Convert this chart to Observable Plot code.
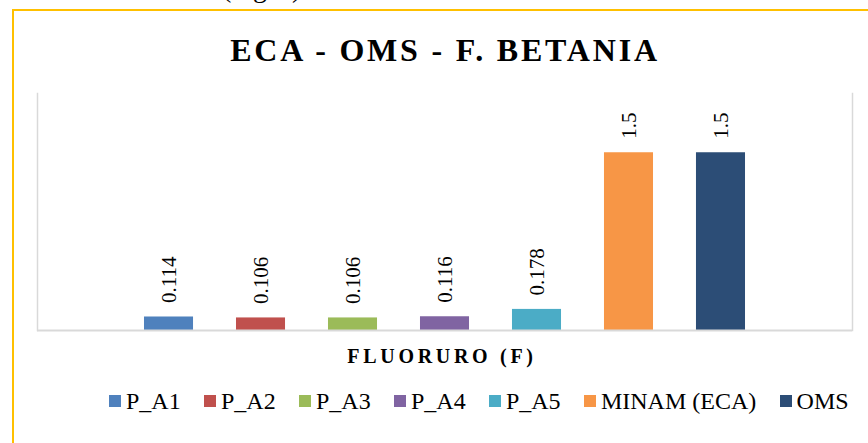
<!DOCTYPE html>
<html>
<head>
<meta charset="utf-8">
<script src="https://cdn.jsdelivr.net/npm/d3@7"></script>
<script src="https://cdn.jsdelivr.net/npm/@observablehq/plot@0.6"></script>
<style>
  html, body { margin: 0; padding: 0; background: #fff; }
  #wrap { position: relative; width: 868px; height: 443px; overflow: hidden; font-family: "Liberation Serif", Tinos, "Times New Roman", Times, serif; color: #000; }
  #border { position: absolute; left: 12px; top: 9px; width: 900px; height: 500px; border-top: 2px solid #FFC000; border-left: 2px solid #FFC000; box-sizing: border-box; }
  #above { position: absolute; left: 222px; top: -26px; font-size: 28px; line-height: 28px; white-space: nowrap; }
  #title { position: absolute; left: 0; width: 890px; top: 34px; text-align: center; font-size: 32px; line-height: 32px; font-weight: bold; letter-spacing: 2.8px; white-space: nowrap; }
  #plot { position: absolute; left: 0; top: 0; }
  #xtitle { position: absolute; left: 0; width: 884px; top: 346px; text-align: center; font-size: 20px; line-height: 20px; font-weight: bold; letter-spacing: 3.7px; white-space: nowrap; }
  #legend { position: absolute; left: 109px; top: 389px; font-size: 24px; line-height: 24px; white-space: nowrap; }
  #legend .item { display: inline-block; margin-right: 23.3px; }
  #legend .sw { display: inline-block; width: 12px; height: 12px; margin-right: 5px; vertical-align: 2px; }
</style>
</head>
<body>
<div id="wrap">
  <div id="border"></div>
  <div id="above">(mg/L)</div>
  <div id="title">ECA - OMS - F. BETANIA</div>
  <div id="plot"></div>
  <div id="xtitle">FLUORURO (F)</div>
  <div id="legend"></div>
</div>
<script>
const series = ["P_A1", "P_A2", "P_A3", "P_A4", "P_A5", "MINAM (ECA)", "OMS"];
const values = [0.114, 0.106, 0.106, 0.116, 0.178, 1.5, 1.5];
const colors = ["#4F81BD", "#C0504D", "#9BBB59", "#8064A2", "#4BACC6", "#F79646", "#2C4D76"];
const category = "FLUORURO (F)";

const data = series.map((s, i) => ({series: s, value: values[i]}));
const font = '"Liberation Serif", Tinos, "Times New Roman", Times, serif';

const chart = Plot.plot({
  width: 868,
  height: 345,
  marginTop: 93,
  marginBottom: 15,
  marginLeft: 37,
  marginRight: 16,
  style: {background: "transparent", fontFamily: font},
  x: {domain: series, paddingInner: 0.467, paddingOuter: 1.163, round: false, axis: null},
  y: {domain: [0, 2], axis: null},
  color: {domain: series, range: colors},
  marks: [
    Plot.frame({anchor: "left", stroke: "#d9d9d9", strokeWidth: 1.5}),
    Plot.frame({anchor: "right", stroke: "#d9d9d9", strokeWidth: 1.5}),
    Plot.barY(data, {x: "series", y: "value", fill: "series"}),
    Plot.ruleY([0], {stroke: "#d9d9d9", strokeWidth: 2}),
    Plot.text(data, {
      x: "series", y: "value", text: d => String(d.value),
      rotate: -90, textAnchor: "start", lineAnchor: "middle",
      dy: -14, fontSize: 21, fill: "#000", fontFamily: font
    })
  ]
});
document.getElementById("plot").appendChild(chart);

const legend = document.getElementById("legend");
series.forEach((s, i) => {
  const item = document.createElement("span");
  item.className = "item";
  const sw = document.createElement("span");
  sw.className = "sw";
  sw.style.background = colors[i];
  item.appendChild(sw);
  item.appendChild(document.createTextNode(s));
  legend.appendChild(item);
});
</script>
</body>
</html>
